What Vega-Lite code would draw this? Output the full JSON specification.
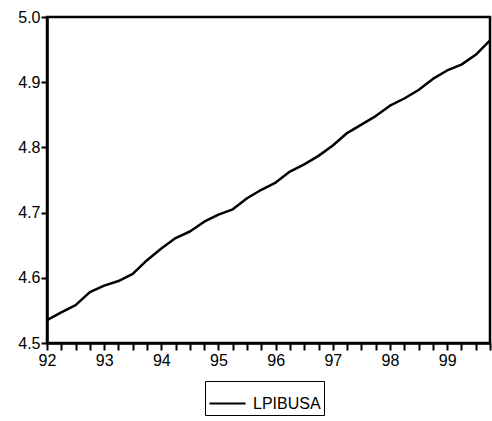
{
  "$schema": "https://vega.github.io/schema/vega-lite/v6.json",
  "width": 443,
  "height": 326,
  "autosize": {"type": "none"},
  "padding": {"left": 47, "top": 17, "right": 2, "bottom": 78},
  "background": "white",
  "config": {
    "view": {"stroke": "black", "strokeWidth": 2.5},
    "font": "Liberation Sans",
    "axis": {"grid": false, "domainColor": "black", "domainWidth": 2.5, "labelColor": "black", "labelFont": "Liberation Sans", "labelFontSize": 16, "title": null}
  },
  "data": {"values": [
    {"t": 92.00, "v": 4.535, "series": "LPIBUSA"},
    {"t": 92.25, "v": 4.547, "series": "LPIBUSA"},
    {"t": 92.50, "v": 4.558, "series": "LPIBUSA"},
    {"t": 92.75, "v": 4.578, "series": "LPIBUSA"},
    {"t": 93.00, "v": 4.588, "series": "LPIBUSA"},
    {"t": 93.25, "v": 4.595, "series": "LPIBUSA"},
    {"t": 93.50, "v": 4.606, "series": "LPIBUSA"},
    {"t": 93.75, "v": 4.627, "series": "LPIBUSA"},
    {"t": 94.00, "v": 4.645, "series": "LPIBUSA"},
    {"t": 94.25, "v": 4.661, "series": "LPIBUSA"},
    {"t": 94.50, "v": 4.671, "series": "LPIBUSA"},
    {"t": 94.75, "v": 4.686, "series": "LPIBUSA"},
    {"t": 95.00, "v": 4.697, "series": "LPIBUSA"},
    {"t": 95.25, "v": 4.705, "series": "LPIBUSA"},
    {"t": 95.50, "v": 4.722, "series": "LPIBUSA"},
    {"t": 95.75, "v": 4.735, "series": "LPIBUSA"},
    {"t": 96.00, "v": 4.746, "series": "LPIBUSA"},
    {"t": 96.25, "v": 4.763, "series": "LPIBUSA"},
    {"t": 96.50, "v": 4.774, "series": "LPIBUSA"},
    {"t": 96.75, "v": 4.787, "series": "LPIBUSA"},
    {"t": 97.00, "v": 4.803, "series": "LPIBUSA"},
    {"t": 97.25, "v": 4.822, "series": "LPIBUSA"},
    {"t": 97.50, "v": 4.835, "series": "LPIBUSA"},
    {"t": 97.75, "v": 4.848, "series": "LPIBUSA"},
    {"t": 98.00, "v": 4.864, "series": "LPIBUSA"},
    {"t": 98.25, "v": 4.875, "series": "LPIBUSA"},
    {"t": 98.50, "v": 4.888, "series": "LPIBUSA"},
    {"t": 98.75, "v": 4.905, "series": "LPIBUSA"},
    {"t": 99.00, "v": 4.918, "series": "LPIBUSA"},
    {"t": 99.25, "v": 4.927, "series": "LPIBUSA"},
    {"t": 99.50, "v": 4.942, "series": "LPIBUSA"},
    {"t": 99.75, "v": 4.964, "series": "LPIBUSA"}
  ]},
  "mark": {"type": "line", "strokeWidth": 2.5, "strokeJoin": "round"},
  "encoding": {
    "x": {"field": "t", "type": "quantitative", "scale": {"domain": [92, 99.75], "nice": false, "zero": false},
      "axis": {"values": [92, 92.25, 92.5, 92.75, 93, 93.25, 93.5, 93.75, 94, 94.25, 94.5, 94.75, 95, 95.25, 95.5, 95.75, 96, 96.25, 96.5, 96.75, 97, 97.25, 97.5, 97.75, 98, 98.25, 98.5, 98.75, 99, 99.25, 99.5, 99.75],
        "labelExpr": "datum.value % 1 === 0 ? format(datum.value, 'd') : ''", "ticks": true, "tickSize": 7, "tickColor": "#000000", "tickWidth": 2, "labelPadding": 2, "labelFlush": false, "labelOverlap": false}},
    "y": {"field": "v", "type": "quantitative", "scale": {"domain": [4.5, 5.0], "nice": false, "zero": false},
      "axis": {"values": [4.5, 4.6, 4.7, 4.8, 4.9, 5.0], "format": ".1f", "ticks": true, "tickSize": 6, "tickColor": "#000000", "tickWidth": 2, "labelPadding": 1}},
    "color": {"field": "series", "type": "nominal", "scale": {"range": ["black"]},
      "legend": {"title": null, "orient": "none", "legendX": 158, "legendY": 364, "symbolType": "stroke", "symbolSize": 1300, "symbolStrokeWidth": 2, "strokeColor": "black", "padding": 3, "labelFontSize": 16, "labelFont": "Liberation Sans", "labelColor": "black", "labelOffset": 6}}
  }
}
